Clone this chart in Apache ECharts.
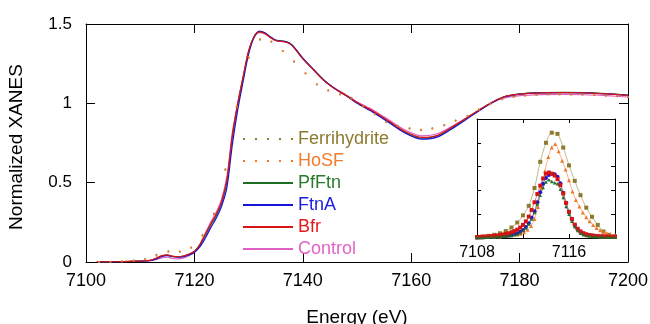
<!DOCTYPE html>
<html>
<head>
<meta charset="utf-8">
<script src="https://cdn.jsdelivr.net/npm/echarts@6/dist/echarts.min.js"></script>
<style>
  html, body { margin: 0; padding: 0; background: #fff; }
  #chart { width: 650px; height: 324px; }
</style>
</head>
<body>
<div id="chart"></div>
<script>
// main XANES spectra, energy in eV
const mainEnergy = [7102, 7104, 7106, 7108, 7110, 7111, 7112, 7113, 7114, 7115, 7116, 7117, 7118, 7119, 7120,
  7121, 7122, 7123, 7124, 7125, 7126, 7127, 7128, 7129, 7130, 7131, 7132, 7133, 7134, 7135, 7136, 7137, 7138,
  7140, 7142, 7144, 7146, 7148, 7150, 7153, 7156, 7159, 7162, 7165, 7168, 7171, 7174, 7177, 7180, 7184, 7188,
  7192, 7196, 7200];
const bfr = [0.000, 0.001, 0.002, 0.004, 0.006, 0.008, 0.012, 0.025, 0.040, 0.045, 0.036, 0.033, 0.038, 0.050, 0.068,
  0.110, 0.175, 0.240, 0.300, 0.380, 0.520, 0.800, 1.000, 1.170, 1.330, 1.420, 1.450, 1.440, 1.415, 1.395, 1.390, 1.385, 1.365,
  1.280, 1.210, 1.140, 1.090, 1.050, 1.005, 0.950, 0.885, 0.820, 0.785, 0.800, 0.860, 0.925, 0.990, 1.040, 1.058, 1.066, 1.068,
  1.066, 1.060, 1.050];
const ftnA = [0.000, 0.001, 0.002, 0.003, 0.005, 0.007, 0.010, 0.020, 0.035, 0.040, 0.033, 0.030, 0.034, 0.044, 0.060,
  0.095, 0.150, 0.215, 0.275, 0.350, 0.470, 0.740, 0.960, 1.140, 1.310, 1.415, 1.455, 1.445, 1.420, 1.398, 1.392, 1.387, 1.368,
  1.285, 1.212, 1.142, 1.090, 1.048, 1.000, 0.943, 0.876, 0.810, 0.774, 0.790, 0.850, 0.918, 0.985, 1.038, 1.058, 1.066, 1.068,
  1.066, 1.060, 1.050];
const pfFtn = [0.000, 0.001, 0.002, 0.004, 0.006, 0.008, 0.011, 0.023, 0.038, 0.043, 0.035, 0.032, 0.037, 0.048, 0.066,
  0.105, 0.168, 0.232, 0.292, 0.370, 0.505, 0.785, 0.990, 1.162, 1.325, 1.420, 1.452, 1.443, 1.418, 1.398, 1.393, 1.388, 1.368,
  1.283, 1.212, 1.142, 1.090, 1.050, 1.003, 0.947, 0.881, 0.815, 0.780, 0.797, 0.857, 0.923, 0.988, 1.040, 1.060, 1.068, 1.070,
  1.068, 1.062, 1.052];
const control = [0.000, 0.001, 0.002, 0.003, 0.005, 0.007, 0.009, 0.016, 0.026, 0.030, 0.022, 0.020, 0.026, 0.040, 0.064,
  0.112, 0.180, 0.250, 0.312, 0.395, 0.540, 0.815, 1.005, 1.170, 1.325, 1.415, 1.445, 1.438, 1.415, 1.397, 1.392, 1.386, 1.366,
  1.283, 1.212, 1.143, 1.093, 1.053, 1.010, 0.957, 0.893, 0.830, 0.795, 0.810, 0.865, 0.926, 0.988, 1.033, 1.048, 1.055, 1.056,
  1.054, 1.048, 1.040];

// dotted references (sparser sampling)
const dotEnergy = [7102.4, 7104.5, 7106.6, 7108.8, 7110.9, 7113.0, 7115.2, 7117.3, 7119.4, 7121.5, 7123.6, 7125.7,
  7127.8, 7130.0, 7132.1, 7134.2, 7136.3, 7138.4, 7140.5, 7142.6, 7144.7, 7146.9, 7149.0, 7151.1, 7153.3, 7155.4,
  7157.5, 7159.7, 7161.8, 7163.9, 7166.1, 7168.2, 7170.4, 7172.5, 7174.6, 7176.8, 7178.9, 7181.0, 7183.1, 7185.3,
  7187.4, 7189.5, 7191.6, 7193.8, 7195.9, 7198.0, 7200.0];
const hoSF = [0.000, 0.002, 0.004, 0.008, 0.015, 0.040, 0.065, 0.065, 0.090, 0.165, 0.300, 0.580, 0.980, 1.290, 1.405,
  1.390, 1.330, 1.265, 1.190, 1.120, 1.080, 1.055, 1.030, 0.980, 0.930, 0.880, 0.855, 0.840, 0.830, 0.840, 0.860, 0.890,
  0.920, 0.960, 0.995, 1.025, 1.040, 1.048, 1.053, 1.056, 1.056, 1.055, 1.054, 1.052, 1.048, 1.044, 1.040];
const ferrihydrite = [0.000, 0.002, 0.004, 0.009, 0.018, 0.045, 0.068, 0.066, 0.092, 0.170, 0.305, 0.585, 0.975, 1.285, 1.400,
  1.388, 1.330, 1.262, 1.188, 1.118, 1.082, 1.058, 1.033, 0.983, 0.933, 0.884, 0.858, 0.843, 0.834, 0.843, 0.863, 0.892,
  0.922, 0.962, 0.997, 1.026, 1.041, 1.049, 1.054, 1.057, 1.057, 1.056, 1.055, 1.053, 1.049, 1.045, 1.041];

// inset: pre-edge region (relative intensity)
const insetEnergy = [7108.00, 7108.25, 7108.50, 7108.75, 7109.00, 7109.25, 7109.50, 7109.75, 7110.00, 7110.25, 7110.50,
  7110.75, 7111.00, 7111.25, 7111.50, 7111.75, 7112.00, 7112.25, 7112.50, 7112.75, 7113.00, 7113.25, 7113.50, 7113.75,
  7114.00, 7114.25, 7114.50, 7114.75, 7115.00, 7115.25, 7115.50, 7115.75, 7116.00, 7116.25, 7116.50, 7116.75, 7117.00,
  7117.25, 7117.50, 7117.75, 7118.00, 7118.25, 7118.50, 7118.75, 7119.00, 7119.25, 7119.50, 7119.75, 7120.00];
const insetFtnA = [0.005, 0.005, 0.006, 0.007, 0.008, 0.009, 0.010, 0.012, 0.014, 0.016, 0.019, 0.022, 0.026, 0.032, 0.040,
  0.052, 0.068, 0.092, 0.125, 0.170, 0.225, 0.300, 0.385, 0.455, 0.505, 0.530, 0.540, 0.535, 0.515, 0.460, 0.380, 0.295,
  0.220, 0.160, 0.110, 0.075, 0.052, 0.038, 0.030, 0.024, 0.020, 0.017, 0.015, 0.013, 0.012, 0.011, 0.010, 0.010, 0.009];
const insetBfr = [0.008, 0.009, 0.010, 0.012, 0.014, 0.016, 0.018, 0.021, 0.024, 0.028, 0.033, 0.040, 0.048, 0.058, 0.070,
  0.088, 0.110, 0.140, 0.180, 0.235, 0.300, 0.370, 0.440, 0.500, 0.540, 0.550, 0.540, 0.525, 0.495, 0.445, 0.375, 0.295,
  0.220, 0.160, 0.112, 0.078, 0.055, 0.040, 0.031, 0.025, 0.021, 0.018, 0.016, 0.014, 0.013, 0.012, 0.011, 0.010, 0.010];
const insetPfFtn = [0.004, 0.004, 0.005, 0.006, 0.007, 0.008, 0.009, 0.011, 0.013, 0.015, 0.017, 0.019, 0.022, 0.027, 0.034,
  0.045, 0.062, 0.085, 0.118, 0.160, 0.215, 0.285, 0.360, 0.425, 0.470, 0.490, 0.475, 0.465, 0.455, 0.410, 0.340, 0.265,
  0.200, 0.140, 0.095, 0.062, 0.040, 0.028, 0.020, 0.016, 0.013, 0.011, 0.010, 0.009, 0.008, 0.008, 0.007, 0.007, 0.006];
const ferriEnergy = [7108.0, 7108.5, 7109.0, 7109.5, 7110.0, 7110.5, 7111.0, 7111.5, 7112.0, 7112.5, 7113.0, 7113.5,
  7114.0, 7114.5, 7115.0, 7115.5, 7116.0, 7116.5, 7117.0, 7117.5, 7118.0, 7118.5, 7119.0, 7119.5, 7120.0];
const insetFerri = [0.008, 0.012, 0.018, 0.027, 0.040, 0.058, 0.088, 0.130, 0.190, 0.270, 0.420, 0.640, 0.800,
  0.885, 0.875, 0.760, 0.610, 0.480, 0.360, 0.255, 0.178, 0.110, 0.055, 0.027, 0.015];
const hoEnergy = [7108.0, 7108.5, 7109.0, 7109.5, 7110.0, 7110.5, 7111.0, 7111.5, 7111.8, 7112.1, 7112.4, 7112.7,
  7113.0, 7113.3, 7113.6, 7113.9, 7114.2, 7114.5, 7114.8, 7115.1, 7115.4, 7115.7, 7116.0, 7116.3, 7116.6, 7116.9,
  7117.2, 7117.5, 7117.8, 7118.1, 7118.4, 7118.7, 7119.0, 7119.3, 7119.6, 7120.0];
const insetHoSF = [0.004, 0.006, 0.008, 0.010, 0.013, 0.018, 0.024, 0.030, 0.036, 0.048, 0.070, 0.100, 0.160, 0.260,
  0.420, 0.560, 0.680, 0.760, 0.790, 0.730, 0.650, 0.575, 0.485, 0.390, 0.320, 0.265, 0.215, 0.175, 0.140, 0.110,
  0.085, 0.065, 0.050, 0.040, 0.030, 0.025];

const FONT = '"Liberation Sans", Arial, sans-serif';
const colors = {
  Ferrihydrite: '#8c7b2f',
  HoSF: '#f07a2a',
  PfFtn: '#1f6e24',
  FtnA: '#1414d8',
  Bfr: '#d61414',
  Control: '#e060c4'
};
const textColors = {
  Ferrihydrite: '#8c7b2f',
  HoSF: '#f27b2c',
  PfFtn: '#2a7a2e',
  FtnA: '#1a1ae6',
  Bfr: '#e41a1a',
  Control: '#e462c6'
};

const pairs = (xs, ys) => xs.map((x, i) => [x, ys[i]]);

const chart = echarts.init(document.getElementById('chart'), null, { renderer: 'canvas' });

const solid = (name, ys) => ({
  name, type: 'line', xAxisIndex: 0, yAxisIndex: 0,
  data: pairs(mainEnergy, ys), smooth: 0.3, showSymbol: false,
  itemStyle: { color: colors[name] },
  lineStyle: { color: colors[name], width: 1.2 }
});
const dotted = (name, ys) => ({
  name, type: 'line', xAxisIndex: 0, yAxisIndex: 0,
  data: pairs(dotEnergy, ys), symbol: 'circle', symbolSize: 2, showSymbol: true,
  itemStyle: { color: colors[name] },
  lineStyle: { width: 0, opacity: 0 }
});
const inset = (name, xs, ys, symbol, size, lineColor) => ({
  name: name + ' (pre-edge)', type: 'line', xAxisIndex: 2, yAxisIndex: 2,
  data: pairs(xs, ys), symbol, symbolSize: size, showSymbol: true, smooth: 0.3,
  itemStyle: { color: colors[name] },
  lineStyle: { color: lineColor, width: 0.8 }
});

const dashIcon = 'path://M0,0h2v2h-2zM12,0h2v2h-2zM24,0h2v2h-2zM36,0h2v2h-2zM48,0h2v2h-2z';
const legendNames = ['Ferrihydrite', 'HoSF', 'PfFtn', 'FtnA', 'Bfr', 'Control'];

const tick = len => ({ show: true, inside: true, length: len, lineStyle: { color: '#000', width: 1 } });
const axisLine = { show: true, onZero: false, lineStyle: { color: '#000', width: 1 } };
const plain = v => String(v);

const option = {
  animation: false,
  backgroundColor: '#fff',
  textStyle: { fontFamily: FONT },
  grid: [
    { left: 86, top: 24, width: 542, height: 238, outerBoundsMode: 'none', containLabel: false },
    { left: 477, top: 119, width: 138, height: 119, outerBoundsMode: 'none', containLabel: false,
      show: true, backgroundColor: '#fff', borderWidth: 0 }
  ],
  legend: {
    orient: 'vertical', left: 238, top: 125,
    itemWidth: 50, itemHeight: 2, itemGap: 4,
    textStyle: { fontSize: 18, fontFamily: FONT, lineHeight: 18 },
    data: legendNames.map(n => ({
      name: n,
      icon: (n === 'Ferrihydrite' || n === 'HoSF') ? dashIcon : 'rect',
      textStyle: { color: textColors[n] }
    })),
    selectedMode: false
  },
  xAxis: [
    {
      gridIndex: 0, type: 'value', min: 7100, max: 7200, interval: 20, position: 'bottom',
      axisLine, axisTick: tick(9), splitLine: { show: false },
      axisLabel: { fontSize: 18, color: '#000', margin: 10, fontFamily: FONT, formatter: plain },
      name: 'Energy (eV)', nameLocation: 'middle', nameGap: 46,
      nameTextStyle: { fontSize: 19, color: '#000', fontFamily: FONT }
    },
    {
      gridIndex: 0, type: 'value', min: 7100, max: 7200, interval: 20, position: 'top',
      axisLine, axisTick: tick(9), axisLabel: { show: false }, splitLine: { show: false }
    },
    {
      gridIndex: 1, type: 'value', min: 7108, max: 7120, interval: 4, position: 'bottom',
      axisLine, axisTick: tick(4), splitLine: { show: false },
      axisLabel: {
        fontSize: 16, color: '#000', margin: 7, fontFamily: FONT, showMinLabel: true,
        formatter: v => ((v - 7108) % 8 === 0 ? String(v) : '')
      }
    },
    {
      gridIndex: 1, type: 'value', min: 7108, max: 7120, interval: 4, position: 'top',
      axisLine, axisTick: tick(4), axisLabel: { show: false }, splitLine: { show: false }
    }
  ],
  yAxis: [
    {
      gridIndex: 0, type: 'value', min: 0, max: 1.5, interval: 0.5, position: 'left',
      axisLine, axisTick: tick(9), splitLine: { show: false },
      axisLabel: { fontSize: 17, color: '#000', margin: 14, fontFamily: FONT, formatter: plain },
      name: 'Normalized XANES', nameLocation: 'middle', nameGap: 60, nameRotate: 90,
      nameTextStyle: { fontSize: 19, color: '#000', fontFamily: FONT, padding: [0, 8, 0, 0] }
    },
    {
      gridIndex: 0, type: 'value', min: 0, max: 1.5, interval: 0.5, position: 'right',
      axisLine, axisTick: tick(9), axisLabel: { show: false }, splitLine: { show: false }
    },
    {
      gridIndex: 1, type: 'value', min: 0, max: 1, interval: 0.2, position: 'left',
      axisLine, axisTick: tick(4), axisLabel: { show: false }, splitLine: { show: false }
    },
    {
      gridIndex: 1, type: 'value', min: 0, max: 1, interval: 0.2, position: 'right',
      axisLine, axisTick: tick(4), axisLabel: { show: false }, splitLine: { show: false }
    }
  ],
  series: [
    solid('Control', control),
    solid('PfFtn', pfFtn),
    solid('FtnA', ftnA),
    solid('Bfr', bfr),
    dotted('Ferrihydrite', ferrihydrite),
    dotted('HoSF', hoSF),
    inset('Ferrihydrite', ferriEnergy, insetFerri, 'rect', 4, '#b3a466'),
    inset('HoSF', hoEnergy, insetHoSF, 'triangle', 4, '#f5a070'),
    inset('FtnA', insetEnergy, insetFtnA, 'circle', 4, '#6060ee'),
    inset('Bfr', insetEnergy, insetBfr, 'rect', 4, '#e06060'),
    inset('PfFtn', insetEnergy, insetPfFtn, 'triangle', 3.5, '#50905a')
  ]
};

chart.setOption(option);
</script>
</body>
</html>
